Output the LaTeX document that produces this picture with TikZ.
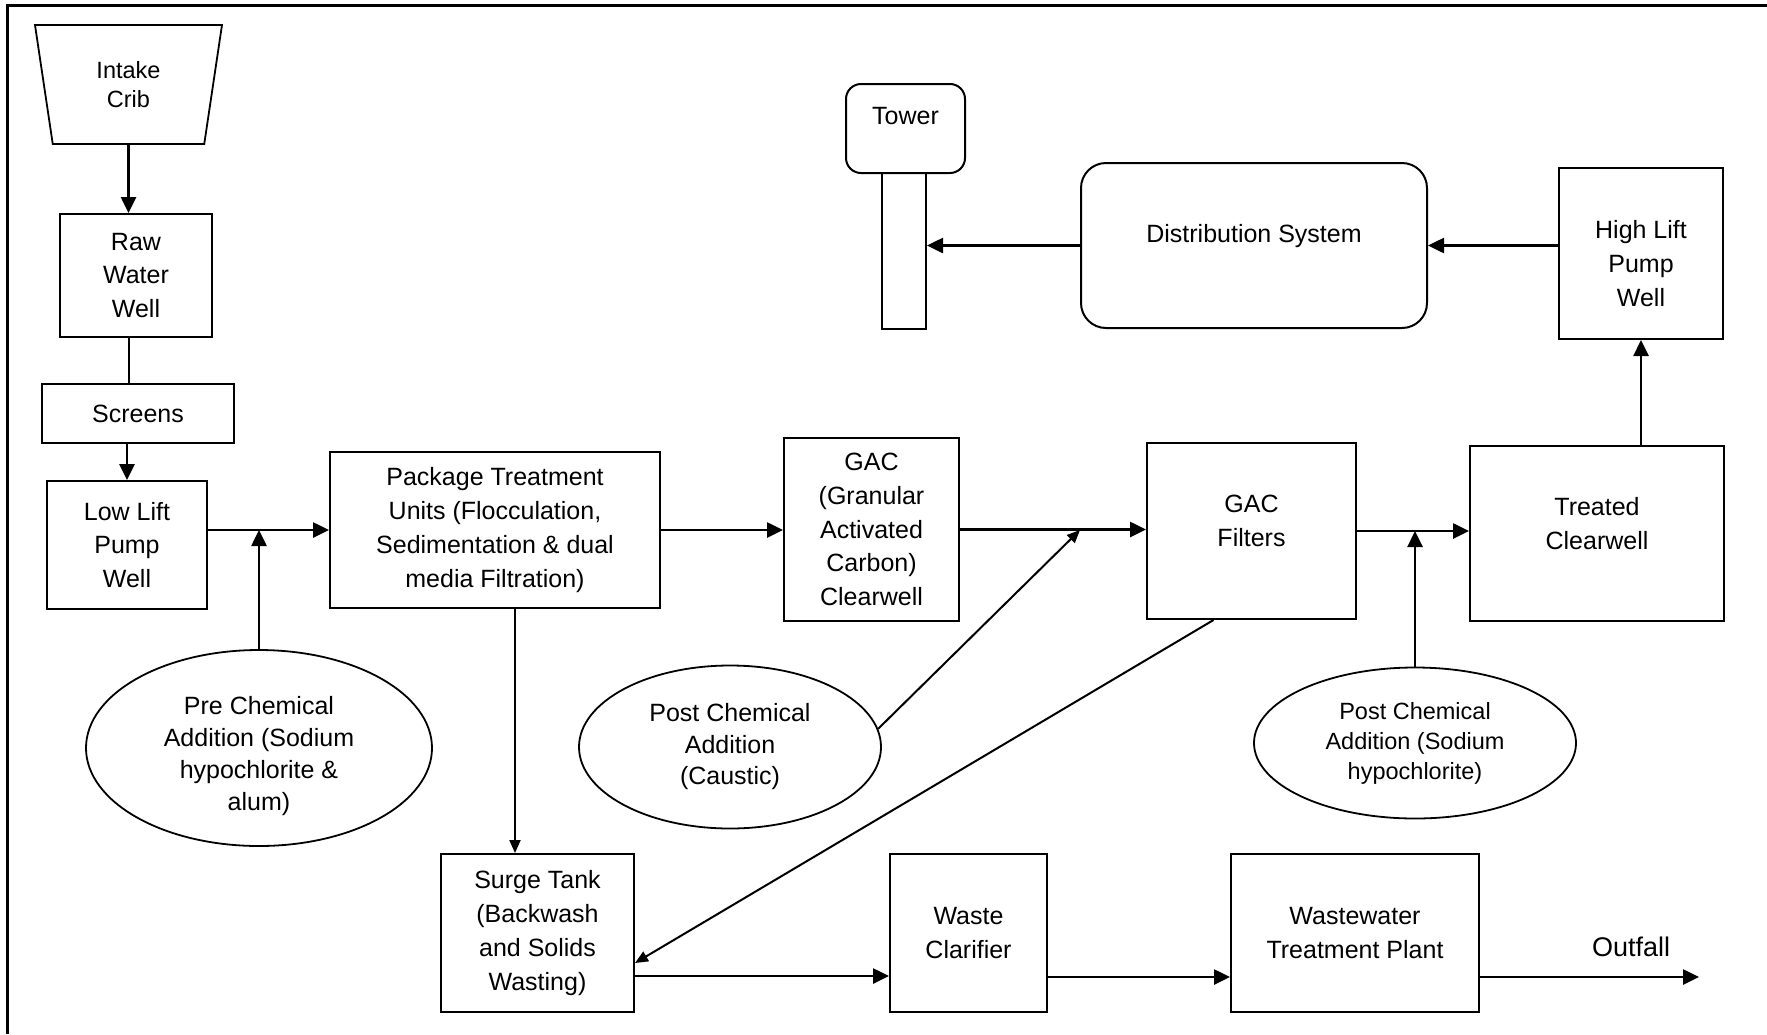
\documentclass[tikz,border=0pt]{standalone}
\usepackage{fontspec}
\setmainfont{Liberation Sans}
\usetikzlibrary{arrows.meta,calc,shapes.geometric}
\newcommand{\boxfont}{\fontsize{25}{33.8}\selectfont}
\tikzset{
  box/.style={draw,line width=2pt,inner sep=2pt,align=center,font=\boxfont},
  tank/.style={box,rounded corners=25pt},
  chem/.style={ellipse,draw,line width=1.8pt,inner sep=0pt,align=center,font=\boxfont},
  crib/.style={trapezium,draw,line width=1.8pt,trapezium stretches body,
    trapezium left angle=69,trapezium right angle=69,shape border rotate=180,
    align=center,inner sep=0pt,font=\fontsize{23.5}{29}\selectfont},
  arr/.style={-{Triangle[length=16pt,width=15pt]},line width=2.6pt},
  thin/.style={-{Triangle[length=13pt,width=11pt]},line width=2pt},
  frame/.style={line width=3pt},
}

\begin{document}
\begin{tikzpicture}[x=1pt,y=-1pt]
\useasboundingbox (0,0) rectangle (1767,1034);
\draw[frame] (7,1034) -- (7,5) -- (1767,5);

% ---- intake side ----
\node[crib,minimum width=187pt,minimum height=119pt] (crib) at (128.5,84.5) {Intake\\Crib};
\node[box,minimum width=152pt,minimum height=123pt] (raw) at (136,275.5) {Raw\\Water\\Well};
\node[box,minimum width=192pt,minimum height=59pt] (screens) at (138,413.5) {Screens};
\node[box,minimum width=160pt,minimum height=128pt] (lowlift) at (127,545) {Low Lift\\Pump\\Well};
\node[chem,minimum width=346pt,minimum height=196pt,font=\fontsize{25}{32}\selectfont,
  text height=130pt] (prechem) at (259,748)
  {Pre Chemical\\Addition (Sodium\\hypochlorite \&\\alum)};

% ---- treatment train ----
\node[box,minimum width=330pt,minimum height=156pt] (pkg) at (495,530)
  {Package Treatment\\Units (Flocculation,\\Sedimentation \& dual\\media Filtration)};
\node[box,minimum width=175pt,minimum height=183pt] (gacc) at (871.5,529.5)
  {GAC\\(Granular\\Activated\\Carbon)\\Clearwell};
\node[chem,minimum width=302pt,minimum height=163pt,font=\fontsize{25}{31.5}\selectfont]
  (caustic) at (730,747) {Post Chemical\\Addition\\(Caustic)};
\node[box,minimum width=209pt,minimum height=176pt,text depth=20pt] (filters) at (1251.5,531)
  {GAC\\Filters};
\node[box,minimum width=254pt,minimum height=175pt,text depth=20pt] (treated) at (1597,533.5)
  {Treated\\Clearwell};
\node[chem,minimum width=322pt,minimum height=151pt,font=\fontsize{23.5}{30}\selectfont]
  (hypo) at (1415,743) {Post Chemical\\Addition (Sodium\\hypochlorite)};

% ---- distribution ----
\node[box,minimum width=164pt,minimum height=171pt,text height=106pt] (highlift) at (1641,253.5)
  {High Lift\\Pump\\Well};
\node[tank,minimum width=346pt,minimum height=165pt,text depth=24pt] (dist) at (1254,245.5)
  {Distribution System};
\node[box,rounded corners=15pt,minimum width=119pt,minimum height=89pt,text depth=26pt]
  (tower) at (905.5,128.5) {Tower};
\node[box,minimum width=44pt,minimum height=156pt] (pole) at (904,251) {};

% ---- waste stream ----
\node[box,minimum width=193pt,minimum height=158pt] (surge) at (537.5,933)
  {Surge Tank\\(Backwash\\and Solids\\Wasting)};
\node[box,minimum width=157pt,minimum height=158pt] (clarifier) at (968.5,933) {Waste\\Clarifier};
\node[box,minimum width=248pt,minimum height=158pt] (wwtp) at (1355,933) {Wastewater\\Treatment Plant};
\coordinate (outfall) at (1699,977);
\coordinate (j2) at (1080,530);
\coordinate (pkgout) at ($(pkg.south)+(20,0)$);

% ---- connectors ----
\draw[arr] (crib.south) -- (crib.south |- raw.north);
\draw[line width=2pt] (raw.south -| crib) -- (screens.north -| crib);
\draw[arr] (screens.south -| lowlift) -- (lowlift.north);
\draw[arr] (lowlift.east |- pkg) -- (pkg.west);
\draw[arr] (prechem.north) -- (prechem.north |- pkg.west);
\draw[arr] (pkg.east) -- (pkg.east -| gacc.west);
\draw[arr] (gacc.east) -- (gacc.east -| filters.west);
\draw[thin] (caustic.7) -- (j2);
\draw[arr] (filters.east) -- (filters.east -| treated.west);
\draw[arr] (hypo.north) -- (hypo.north |- filters.east);
\draw[arr] (treated.north -| highlift) -- (highlift.south);
\draw[arr] (highlift.west |- dist) -- (dist.east);
\draw[arr] (dist.west) -- (dist.west -| pole.east);
\draw[thin] (pkgout) -- (pkgout |- surge.north);
\draw[thin] ($(filters.south west)!0.32!(filters.south east)$) -- ($(surge.east)+(0,30)$);
\draw[arr] ($(surge.east)+(0,43)$) -- ($(clarifier.west)+(0,43)$);
\draw[arr] ($(clarifier.east)+(0,44)$) -- ($(wwtp.west)+(0,44)$);
\draw[arr] (wwtp.east |- outfall) -- (outfall)
  node[pos=0.69,above=16pt,font=\fontsize{27}{30}\selectfont] (outlbl) {Outfall};
\end{tikzpicture}
\end{document}
